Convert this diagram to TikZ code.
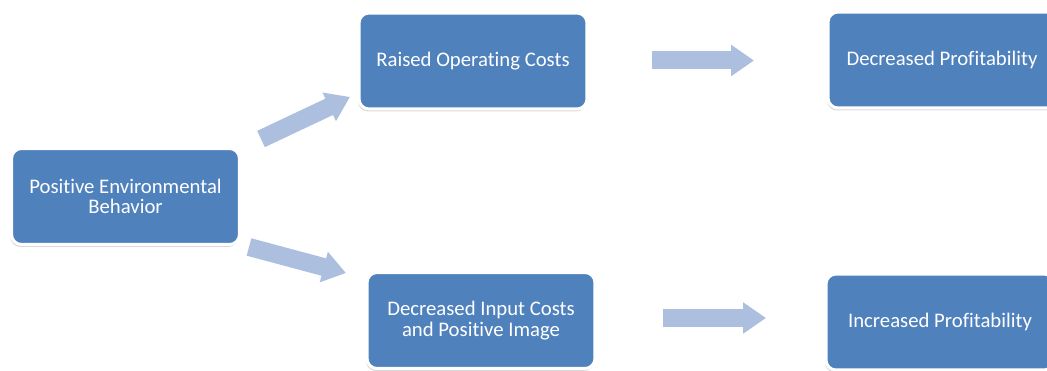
\documentclass[tikz,border=0pt]{standalone}
\usepackage{fontspec}
\setmainfont[Ligatures=NoCommon]{Carlito}
\usetikzlibrary{arrows.meta,shadows}
\definecolor{boxblue}{RGB}{79,129,189}
\definecolor{arrowblue}{RGB}{173,191,222}

\begin{document}
\begin{tikzpicture}[x=.02cm,y=-.02cm,
  stage/.style={rectangle,rounded corners=.2cm,draw=white,line width=.06cm,fill=boxblue,text=white,
    minimum width=4.56cm,minimum height=1.92cm,align=center,font=\fontsize{11.8}{11.8}\selectfont,
    drop shadow={shadow xshift=-.02cm,shadow yshift=-.05cm,opacity=.3}},
  flow/.style={arrowblue,line width=.36cm,-{Triangle[width=.6cm,length=.46cm]}}]
\clip (0,0) rectangle (1047,371);

\coordinate (col_1) at (125.5,196.5);
\coordinate (top_2) at (473,61);
\coordinate (top_3) at (942,60);
\coordinate (bot_2) at (481,320.5);
\coordinate (bot_3) at (940,322);

% arrow ends
\coordinate (up_1) at (261,139);
\coordinate (up_2) at (350,97);
\coordinate (down_1) at (249,247);
\coordinate (down_2) at (346,273);
\coordinate (topflow_1) at (652,60.5);
\coordinate (topflow_2) at (754,60.5);
\coordinate (botflow_1) at (663,318);
\coordinate (botflow_2) at (766,318);

\draw[flow] (up_1)--(up_2);
\draw[flow] (down_1)--(down_2);
\draw[flow] (topflow_1)--(topflow_2);
\draw[flow] (botflow_1)--(botflow_2);

\node[stage] (pos_env) at (col_1) {Positive Environmental\\Behavior};
\node[stage] (raised) at (top_2) {Raised Operating Costs};
\node[stage] (decr_prof) at (top_3) {Decreased Profitability};
\node[stage] (decr_input) at (bot_2) {Decreased Input Costs\\and Positive Image};
\node[stage] (incr_prof) at (bot_3) {Increased Profitability};
\end{tikzpicture}
\end{document}
